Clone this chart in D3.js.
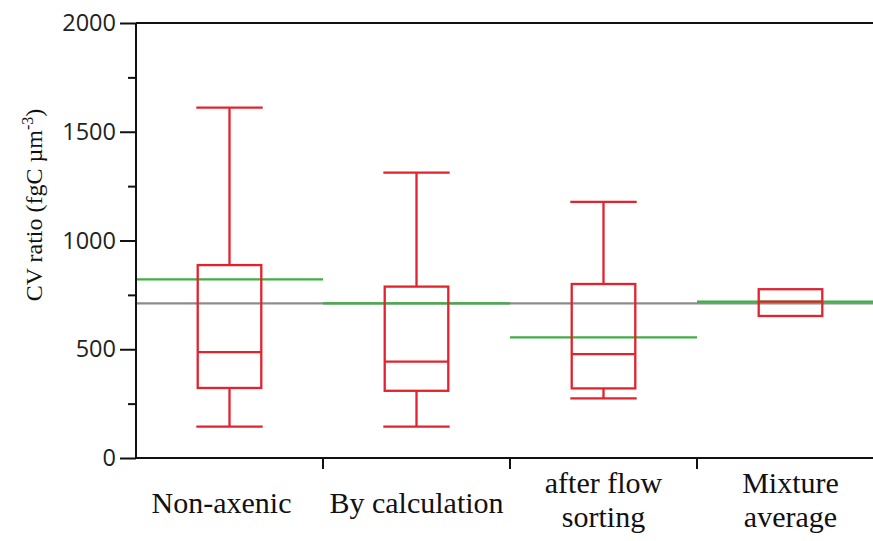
<!DOCTYPE html>
<html>
<head>
<meta charset="utf-8">
<script src="https://cdn.jsdelivr.net/npm/d3@7"></script>
<style>
  html, body { margin: 0; padding: 0; background: #fff; }
  svg { display: block; }
</style>
</head>
<body>
<svg id="chart" width="873" height="541"></svg>
<script>
// ---- data ----
const categories = ["Non-axenic", "By calculation", "after flow sorting", "Mixture average"];
const categoryLines = [["Non-axenic"], ["By calculation"], ["after flow", "sorting"], ["Mixture", "average"]];
const whiskerLow  = [144, 144, 274, 653];
const quartile1   = [322, 309, 320, 653];
const medians     = [487, 443, 478, 719];
const quartile3   = [887, 788, 800, 776];
const whiskerHigh = [1611, 1312, 1178, 776];
const greenRefs   = [821, 711, 555, 719];
const greyRef     = 711;
const yTicks      = [0, 500, 1000, 1500, 2000];
const yMinorTicks = [250, 750, 1250, 1750];

// ---- layout ----
const svg = d3.select("#chart");
const mLeft = 136, mRight = 884, mTop = 23, mBottom = 458;

const x = d3.scaleBand().domain(categories).range([mLeft, mRight]).paddingInner(0).paddingOuter(0);
const y = d3.scaleLinear().domain([0, 2000]).range([mBottom, mTop]);

const red = "#e2232e", green = "#3fae43", grey = "#8c8c8c";
const sw = 2.3;

// grey reference line across whole plot
svg.append("line")
  .attr("x1", mLeft).attr("x2", mRight)
  .attr("y1", y(greyRef)).attr("y2", y(greyRef))
  .attr("stroke", grey).attr("stroke-width", sw);

// green per-category lines
svg.selectAll("line.green").data(categories).enter().append("line")
  .attr("class", "green")
  .attr("x1", d => x(d)).attr("x2", d => x(d) + x.bandwidth())
  .attr("y1", (d, i) => y(greenRefs[i])).attr("y2", (d, i) => y(greenRefs[i]))
  .attr("stroke", green).attr("stroke-width", sw);

// boxes
const boxW = x.bandwidth() * 0.34;
const capW = x.bandwidth() * 0.355;
const g = svg.selectAll("g.box").data(categories).enter().append("g").attr("class", "box");
g.each(function(d, i) {
  const sel = d3.select(this);
  const cx = x(d) + x.bandwidth() / 2;
  if (whiskerHigh[i] > quartile3[i]) {
    sel.append("line").attr("x1", cx).attr("x2", cx)
      .attr("y1", y(quartile3[i])).attr("y2", y(whiskerHigh[i]))
      .attr("stroke", red).attr("stroke-width", sw);
    sel.append("line").attr("x1", cx - capW / 2).attr("x2", cx + capW / 2)
      .attr("y1", y(whiskerHigh[i])).attr("y2", y(whiskerHigh[i]))
      .attr("stroke", red).attr("stroke-width", sw);
  }
  if (whiskerLow[i] < quartile1[i]) {
    sel.append("line").attr("x1", cx).attr("x2", cx)
      .attr("y1", y(quartile1[i])).attr("y2", y(whiskerLow[i]))
      .attr("stroke", red).attr("stroke-width", sw);
    sel.append("line").attr("x1", cx - capW / 2).attr("x2", cx + capW / 2)
      .attr("y1", y(whiskerLow[i])).attr("y2", y(whiskerLow[i]))
      .attr("stroke", red).attr("stroke-width", sw);
  }
  sel.append("rect")
    .attr("x", cx - boxW / 2).attr("width", boxW)
    .attr("y", y(quartile3[i])).attr("height", y(quartile1[i]) - y(quartile3[i]))
    .attr("fill", "none").attr("stroke", red).attr("stroke-width", sw);
  sel.append("line").attr("x1", cx - boxW / 2).attr("x2", cx + boxW / 2)
    .attr("y1", y(medians[i])).attr("y2", y(medians[i]))
    .attr("stroke", red).attr("stroke-width", sw);
});

// top frame
svg.append("line").attr("x1", mLeft).attr("x2", mRight)
  .attr("y1", mTop).attr("y2", mTop)
  .attr("stroke", "#111").attr("stroke-width", 2);

// y axis
const yAxis = svg.append("g").attr("transform", `translate(${mLeft},0)`)
  .call(d3.axisLeft(y).tickValues(yTicks).tickSize(16).tickPadding(4).tickFormat(d3.format("d")));
yAxis.select(".domain").attr("stroke", "#111").attr("stroke-width", 2).attr("d", `M0,${mBottom}V${mTop}`);
yAxis.selectAll(".tick line").attr("stroke", "#111").attr("stroke-width", 2);
yAxis.selectAll(".tick text")
  .attr("font-family", "'Open Sans', 'Liberation Sans', sans-serif")
  .attr("font-size", 23.5).attr("fill", "#222");

const yMinor = svg.append("g").attr("transform", `translate(${mLeft},0)`)
  .call(d3.axisLeft(y).tickValues(yMinorTicks).tickSize(8).tickFormat(""));
yMinor.select(".domain").remove();
yMinor.selectAll(".tick line").attr("stroke", "#111").attr("stroke-width", 2);

// x axis
const xAxis = svg.append("g").attr("transform", `translate(0,${mBottom})`)
  .call(d3.axisBottom(x).tickSize(0).tickFormat(""));
xAxis.select(".domain").attr("stroke", "#111").attr("stroke-width", 2).attr("d", `M${mLeft},0H${mRight}`);
xAxis.selectAll(".tick").remove();
// boundary ticks between categories
const bounds = categories.slice(1).map(c => x(c));
xAxis.selectAll("line.bt").data(bounds).enter().append("line")
  .attr("x1", d => d).attr("x2", d => d).attr("y1", 0).attr("y2", 11)
  .attr("stroke", "#111").attr("stroke-width", 2);

// x labels
categories.forEach((c, i) => {
  const cx = x(c) + x.bandwidth() / 2 + (i === 0 ? -8 : 0);
  const lines = categoryLines[i];
  const t = svg.append("text")
    .attr("text-anchor", "middle")
    .attr("font-family", "'Liberation Serif', 'Times New Roman', serif")
    .attr("font-size", 30).attr("fill", "#111");
  if (lines.length === 1) {
    t.append("tspan").attr("x", cx).attr("y", 513).text(lines[0]);
  } else {
    t.append("tspan").attr("x", cx).attr("y", 493).text(lines[0]);
    t.append("tspan").attr("x", cx).attr("y", 527).text(lines[1]);
  }
});

// y title
const yt = svg.append("text")
  .attr("transform", "translate(42,205) rotate(-90)")
  .attr("text-anchor", "middle")
  .attr("font-family", "'Liberation Serif', 'Times New Roman', serif")
  .attr("font-size", 24).attr("fill", "#111");
yt.append("tspan").text("CV ratio (fgC µm");
yt.append("tspan").attr("font-size", 16).attr("dy", -9).text("-3");
yt.append("tspan").attr("dy", 9).text(")");
</script>
</body>
</html>
